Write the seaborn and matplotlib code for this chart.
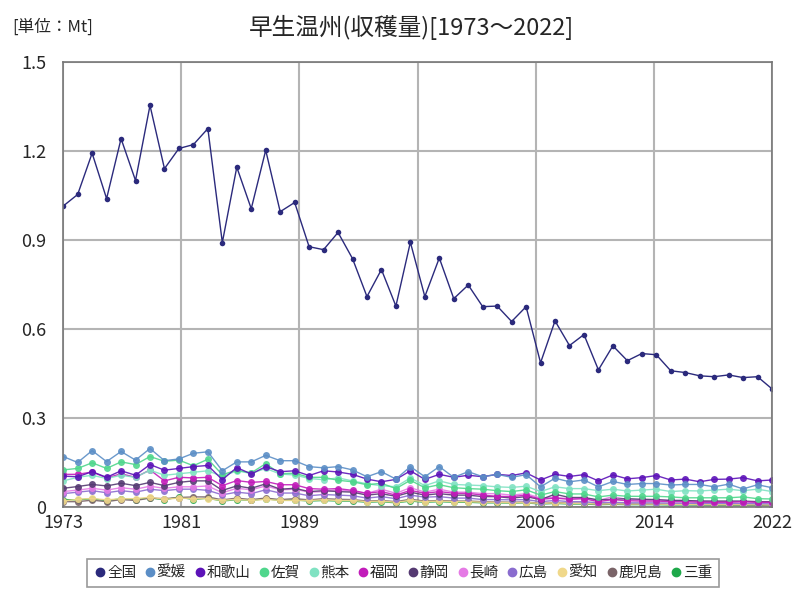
import pandas as pd
import matplotlib
matplotlib.use("Agg")
import matplotlib.pyplot as plt
from matplotlib.lines import Line2D
import seaborn as sns

# 年
years = list(range(1973, 2023))

# 収穫量 (Mt)
national = [1.014, 1.053, 1.192, 1.039, 1.241, 1.100, 1.353, 1.140, 1.208, 1.221,
            1.275, 0.891, 1.145, 1.005, 1.202, 0.995, 1.026, 0.877, 0.867, 0.925,
            0.837, 0.709, 0.800, 0.677, 0.892, 0.709, 0.839, 0.702, 0.748, 0.675,
            0.677, 0.625, 0.675, 0.486, 0.627, 0.544, 0.581, 0.462, 0.543, 0.493,
            0.517, 0.513, 0.459, 0.453, 0.442, 0.439, 0.445, 0.436, 0.439, 0.398]
ehime = [0.170, 0.150, 0.190, 0.153, 0.187, 0.158, 0.197, 0.156, 0.162, 0.181, 0.186, 0.122, 0.152, 0.152, 0.174, 0.156, 0.156,
         0.136, 0.132, 0.136, 0.125, 0.102, 0.119, 0.094, 0.136, 0.102, 0.136, 0.100, 0.119, 0.102, 0.110, 0.100, 0.109,
         0.068, 0.097, 0.085, 0.091, 0.068, 0.086, 0.076, 0.079, 0.079, 0.074, 0.076, 0.076, 0.068, 0.077, 0.061, 0.075, 0.065]
wakayama = [0.104, 0.102, 0.119, 0.100, 0.122, 0.107, 0.143, 0.124, 0.130, 0.136, 0.140, 0.092, 0.133, 0.111, 0.136, 0.119, 0.122,
            0.106, 0.122, 0.118, 0.110, 0.094, 0.085, 0.093, 0.122, 0.093, 0.110, 0.100, 0.107, 0.102, 0.110, 0.106, 0.115,
            0.091, 0.110, 0.103, 0.109, 0.088, 0.108, 0.095, 0.099, 0.106, 0.091, 0.094, 0.085, 0.093, 0.094, 0.099, 0.088, 0.091]
saga = [0.125, 0.130, 0.149, 0.130, 0.152, 0.143, 0.170, 0.154, 0.158, 0.139, 0.161, 0.109, 0.124, 0.115, 0.146, 0.112, 0.114,
        0.100, 0.100, 0.090, 0.085, 0.075, 0.080, 0.062, 0.090, 0.065, 0.075, 0.065, 0.062, 0.060, 0.055, 0.052, 0.058,
        0.040, 0.052, 0.044, 0.044, 0.034, 0.040, 0.036, 0.036, 0.036, 0.034, 0.031, 0.031, 0.031, 0.031, 0.034, 0.028, 0.027]
kumamoto = [0.088, 0.100, 0.107, 0.096, 0.107, 0.100, 0.124, 0.107, 0.112, 0.117, 0.122, 0.103, 0.122, 0.113, 0.130, 0.111, 0.108,
            0.096, 0.092, 0.098, 0.088, 0.078, 0.072, 0.068, 0.098, 0.072, 0.088, 0.076, 0.074, 0.072, 0.068, 0.066, 0.070,
            0.052, 0.068, 0.062, 0.062, 0.055, 0.060, 0.054, 0.057, 0.060, 0.052, 0.055, 0.054, 0.057, 0.060, 0.055, 0.060, 0.052]
fukuoka = [0.110, 0.110, 0.118, 0.098, 0.112, 0.100, 0.125, 0.088, 0.100, 0.098, 0.100, 0.072, 0.089, 0.083, 0.086, 0.075, 0.075,
           0.062, 0.060, 0.062, 0.056, 0.046, 0.052, 0.040, 0.056, 0.046, 0.052, 0.046, 0.046, 0.040, 0.036, 0.035, 0.040,
           0.026, 0.030, 0.026, 0.028, 0.018, 0.025, 0.021, 0.020, 0.020, 0.018, 0.018, 0.016, 0.016, 0.016, 0.018, 0.016, 0.016]
shizuoka = [0.063, 0.069, 0.076, 0.071, 0.080, 0.072, 0.083, 0.072, 0.083, 0.088, 0.088, 0.056, 0.071, 0.063, 0.078, 0.060, 0.063,
            0.052, 0.055, 0.052, 0.050, 0.040, 0.045, 0.036, 0.050, 0.040, 0.045, 0.040, 0.040, 0.035, 0.035, 0.030, 0.035,
            0.025, 0.043, 0.032, 0.032, 0.024, 0.026, 0.028, 0.026, 0.025, 0.022, 0.022, 0.020, 0.020, 0.020, 0.020, 0.018, 0.018]
nagasaki = [0.052, 0.057, 0.063, 0.057, 0.065, 0.060, 0.070, 0.063, 0.068, 0.068, 0.071, 0.048, 0.063, 0.058, 0.071, 0.058, 0.060,
            0.050, 0.052, 0.058, 0.052, 0.046, 0.060, 0.046, 0.065, 0.050, 0.060, 0.050, 0.050, 0.045, 0.045, 0.040, 0.045,
            0.030, 0.032, 0.028, 0.030, 0.022, 0.035, 0.025, 0.024, 0.024, 0.022, 0.022, 0.020, 0.018, 0.018, 0.018, 0.016, 0.015]
hiroshima = [0.045, 0.050, 0.055, 0.048, 0.055, 0.050, 0.060, 0.055, 0.060, 0.060, 0.056, 0.041, 0.050, 0.045, 0.058, 0.047, 0.047,
             0.038, 0.042, 0.040, 0.038, 0.030, 0.035, 0.028, 0.040, 0.033, 0.035, 0.030, 0.030, 0.025, 0.025, 0.024, 0.025,
             0.018, 0.022, 0.018, 0.018, 0.014, 0.016, 0.014, 0.014, 0.014, 0.013, 0.013, 0.012, 0.012, 0.012, 0.012, 0.011, 0.011]
aichi = [0.020, 0.026, 0.029, 0.024, 0.028, 0.028, 0.033, 0.026, 0.030, 0.028, 0.028, 0.022, 0.026, 0.022, 0.026, 0.022, 0.022,
         0.022, 0.024, 0.022, 0.022, 0.018, 0.020, 0.016, 0.022, 0.018, 0.020, 0.018, 0.018, 0.016, 0.016, 0.014, 0.015,
         0.012, 0.014, 0.012, 0.012, 0.010, 0.011, 0.010, 0.010, 0.010, 0.009, 0.009, 0.009, 0.008, 0.008, 0.008, 0.008, 0.007]
kagoshima = [0.018, 0.018, 0.023, 0.018, 0.025, 0.022, 0.030, 0.028, 0.032, 0.034, 0.034, 0.024, 0.030, 0.025, 0.030, 0.025, 0.028,
             0.024, 0.028, 0.026, 0.025, 0.020, 0.022, 0.018, 0.026, 0.020, 0.022, 0.020, 0.020, 0.018, 0.017, 0.016, 0.017,
             0.012, 0.015, 0.013, 0.013, 0.010, 0.012, 0.010, 0.010, 0.010, 0.009, 0.009, 0.008, 0.008, 0.008, 0.008, 0.007, 0.007]
mie = [0.025, 0.024, 0.028, 0.021, 0.028, 0.025, 0.031, 0.024, 0.034, 0.025, 0.030, 0.020, 0.025, 0.022, 0.028, 0.022, 0.024,
       0.020, 0.022, 0.020, 0.020, 0.016, 0.018, 0.014, 0.020, 0.016, 0.018, 0.016, 0.016, 0.014, 0.014, 0.013, 0.014,
       0.010, 0.012, 0.010, 0.010, 0.008, 0.009, 0.008, 0.008, 0.008, 0.007, 0.007, 0.007, 0.006, 0.006, 0.006, 0.006, 0.005]

region_names = ["全国", "愛媛", "和歌山", "佐賀", "熊本", "福岡", "静岡", "長崎", "広島", "愛知", "鹿児島", "三重"]
region_values = [national, ehime, wakayama, saga, kumamoto, fukuoka, shizuoka, nagasaki, hiroshima, aichi, kagoshima, mie]
region_colors = ["#2b2a7c", "#5b8ec6", "#5c12b8", "#4fd68c", "#80e2c2", "#c21cba",
                 "#553a72", "#e57ae5", "#8a6ccf", "#f0d88a", "#7a6468", "#1ea84a"]

# long形式に変換
rows = []
for name, vals in zip(region_names, region_values):
    for y, v in zip(years, vals):
        rows.append({"year": y, "region": name, "value": v})
df = pd.DataFrame(rows)

sns.set_style("white")
plt.rcParams["font.family"] = ["Noto Sans CJK JP", "DejaVu Sans"]

fig = plt.figure(figsize=(8, 6), dpi=100)
ax = fig.add_axes([0.079, 0.155, 0.886, 0.742])

palette = dict(zip(region_names, region_colors))
# 全国は最後に描いて一番上に
for name in region_names[::-1]:
    sub = df[df["region"] == name]
    is_nat = name == "全国"
    sns.lineplot(data=sub, x="year", y="value", color=palette[name], ax=ax,
                 marker="o", markersize=4 if is_nat else 5, markeredgewidth=0,
                 linewidth=1.0, alpha=1.0 if is_nat else 0.9, legend=False)

ax.set_xlim(1973, 2022)
ax.set_ylim(0, 1.5)
xt = [1973 + i * 49 / 6 for i in range(7)]
ax.set_xticks(xt)
ax.set_xticklabels([str(round(t)) for t in xt])
ax.set_yticks([0, 0.3, 0.6, 0.9, 1.2, 1.5])
ax.set_yticklabels(["0", "0.3", "0.6", "0.9", "1.2", "1.5"])
ax.tick_params(axis="x", labelsize=13, length=0, pad=5)
ax.tick_params(axis="y", labelsize=13, length=0, pad=12)
ax.set_xlabel("")
ax.set_ylabel("")
ax.grid(True, color="#b4b4b4", linewidth=1.5)
ax.set_axisbelow(True)
for sp in ax.spines.values():
    sp.set_color("#777777")
    sp.set_linewidth(1.2)

fig.text(0.515, 0.955, "早生温州(収穫量)[1973～2022]", ha="center", va="center", fontsize=17)
fig.text(0.015, 0.955, "[単位：Mt]", ha="left", va="center", fontsize=12)

handles = [Line2D([], [], marker="o", linestyle="", color=c, markersize=6) for c in region_colors]
leg = fig.legend(handles, region_names, loc="center", bbox_to_anchor=(0.504, 0.045), ncol=12,
                 fontsize=10.5, handletextpad=0.05, columnspacing=0.55, handlelength=0.8,
                 frameon=True, fancybox=False, borderpad=0.5)
leg.get_frame().set_edgecolor("#808080")
leg.get_frame().set_linewidth(1.2)

fig.savefig("out.png", dpi=100)
